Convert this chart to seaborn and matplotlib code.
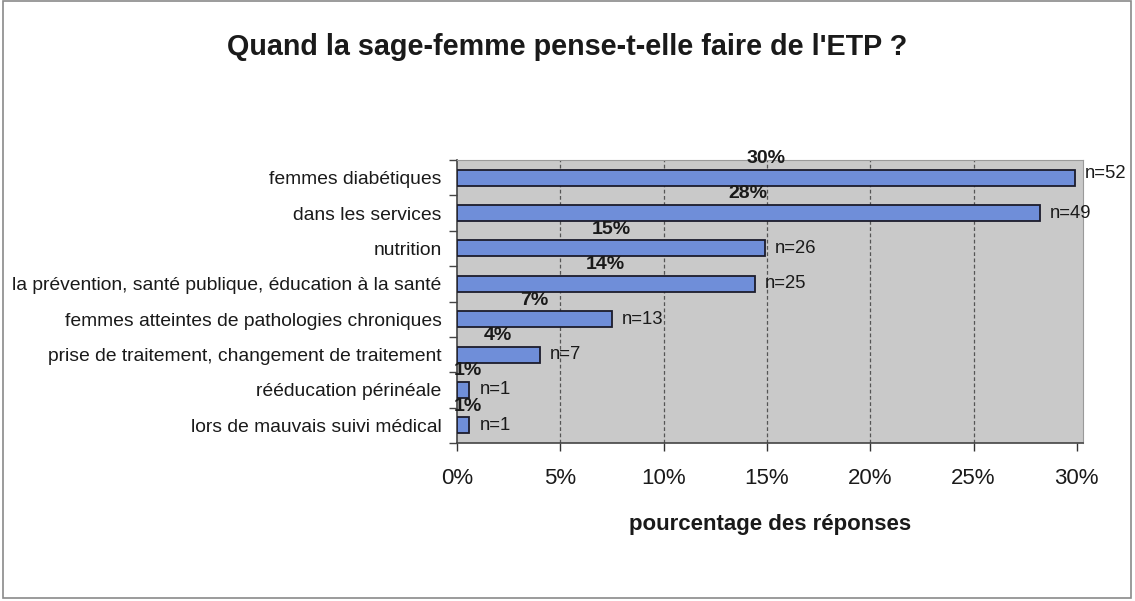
import matplotlib
matplotlib.use("Agg")
import matplotlib.pyplot as plt
import seaborn as sns
import pandas as pd
from matplotlib.patches import Rectangle

categories = [
    "femmes diabétiques",
    "dans les services",
    "nutrition",
    "la prévention, santé publique, éducation à la santé",
    "femmes atteintes de pathologies chroniques",
    "prise de traitement, changement de traitement",
    "rééducation périnéale",
    "lors de mauvais suivi médical",
]
percent = [29.9, 28.2, 14.9, 14.4, 7.5, 4.0, 0.6, 0.6]
pct_labels = ["30%", "28%", "15%", "14%", "7%", "4%", "1%", "1%"]
counts = [52, 49, 26, 25, 13, 7, 1, 1]
xticks = [0, 5, 10, 15, 20, 25, 30]
xtick_labels = ["0%", "5%", "10%", "15%", "20%", "25%", "30%"]

df = pd.DataFrame({"cat": categories, "pct": percent})

sns.set_theme(style="white")
plt.rcParams["font.family"] = ["Liberation Sans", "DejaVu Sans"]

fig = plt.figure(figsize=(11.35, 6.01), dpi=100)
ax = fig.add_axes([457 / 1135, 1 - 443 / 601, (1083 - 457) / 1135, (443 - 160) / 601])

ax.set_facecolor("#c9c9c9")
sns.barplot(data=df, x="pct", y="cat", orient="h", color="#6f8ed9", saturation=1,
            width=0.45, edgecolor="#1c1c2c", linewidth=1.3, ax=ax, zorder=3)

ax.set_xlim(0, 30.3)
ax.set_ylim(7.5, -0.5)
ax.set_xticks(xticks)
ax.set_xticklabels(xtick_labels, fontsize=16)
ax.tick_params(axis="x", which="both", bottom=True, length=6, width=1, color="#333333", pad=12)
ax.tick_params(axis="y", which="major", left=False, length=0, pad=11, labelsize=13.9)
ax.set_yticks([i - 0.5 for i in range(len(categories) + 1)], minor=True)
ax.tick_params(axis="y", which="minor", left=True, length=6, width=1, color="#444444")
ax.set_ylabel("")
ax.set_xlabel("pourcentage des réponses", fontsize=16, fontweight="bold", labelpad=18, color="#1a1a1a")
for t in ax.get_yticklabels() + ax.get_xticklabels():
    t.set_color("#1a1a1a")

for x in xticks[1:-1]:
    ax.axvline(x, color="#555555", linestyle=(0, (3, 2)), linewidth=0.9, zorder=1)

for s in ["top", "right"]:
    ax.spines[s].set_color("#9a9a9a")
    ax.spines[s].set_linewidth(0.8)
for s in ["left", "bottom"]:
    ax.spines[s].set_color("#444444")
    ax.spines[s].set_linewidth(1.2)

for i, (v, pl, n) in enumerate(zip(percent, pct_labels, counts)):
    ax.text(v / 2 if v > 2 else v / 2 + 0.25, i - 0.30, pl, ha="center", va="bottom",
            fontsize=14, fontweight="bold", color="#1a1a1a", zorder=5)
    ax.text(v + 0.5, i - (0.12 if i == 0 else 0), f"n={n}", ha="left", va="center",
            fontsize=13.3, color="#1a1a1a", zorder=5, clip_on=False)

fig.text(0.5, 1 - 47 / 601, "Quand la sage-femme pense-t-elle faire de l'ETP ?",
         ha="center", va="center", fontsize=20.7, fontweight="bold", color="#1a1a1a")

fig.patches.append(Rectangle((3 / 1135, 3 / 601), 1128 / 1135, 597 / 601,
                             transform=fig.transFigure, fill=False,
                             edgecolor="#8a8a8a", linewidth=1.2))

fig.savefig("out.png", dpi=100, facecolor="white")
